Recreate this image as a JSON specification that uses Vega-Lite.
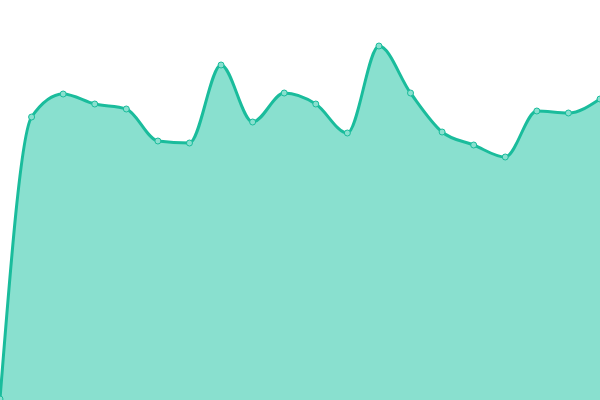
{
  "$schema": "https://vega.github.io/schema/vega-lite/v6.json",
  "width": 600,
  "height": 400,
  "autosize": {"type": "none"},
  "padding": 0,
  "config": {"view": {"stroke": null}},
  "data": {
    "values": [
      {"i": 0, "v": 1},
      {"i": 1, "v": 283},
      {"i": 2, "v": 306},
      {"i": 3, "v": 296},
      {"i": 4, "v": 291},
      {"i": 5, "v": 259},
      {"i": 6, "v": 257},
      {"i": 7, "v": 335},
      {"i": 8, "v": 278},
      {"i": 9, "v": 307},
      {"i": 10, "v": 296},
      {"i": 11, "v": 267},
      {"i": 12, "v": 354},
      {"i": 13, "v": 307},
      {"i": 14, "v": 268},
      {"i": 15, "v": 255},
      {"i": 16, "v": 243},
      {"i": 17, "v": 289},
      {"i": 18, "v": 287},
      {"i": 19, "v": 301}
    ]
  },
  "encoding": {
    "x": {"field": "i", "type": "quantitative", "scale": {"domain": [0, 19], "nice": false}, "axis": null},
    "y": {"field": "v", "type": "quantitative", "scale": {"domain": [0, 400], "nice": false}, "axis": null}
  },
  "layer": [
    {"mark": {"type": "area", "interpolate": "monotone", "color": "#89e0cf"}},
    {"mark": {"type": "line", "interpolate": "monotone", "color": "#1abc9c", "strokeWidth": 3}},
    {"mark": {"type": "point", "filled": true, "fill": "#89e0cf", "stroke": "#1abc9c", "strokeWidth": 1, "size": 36, "opacity": 1}}
  ]
}
